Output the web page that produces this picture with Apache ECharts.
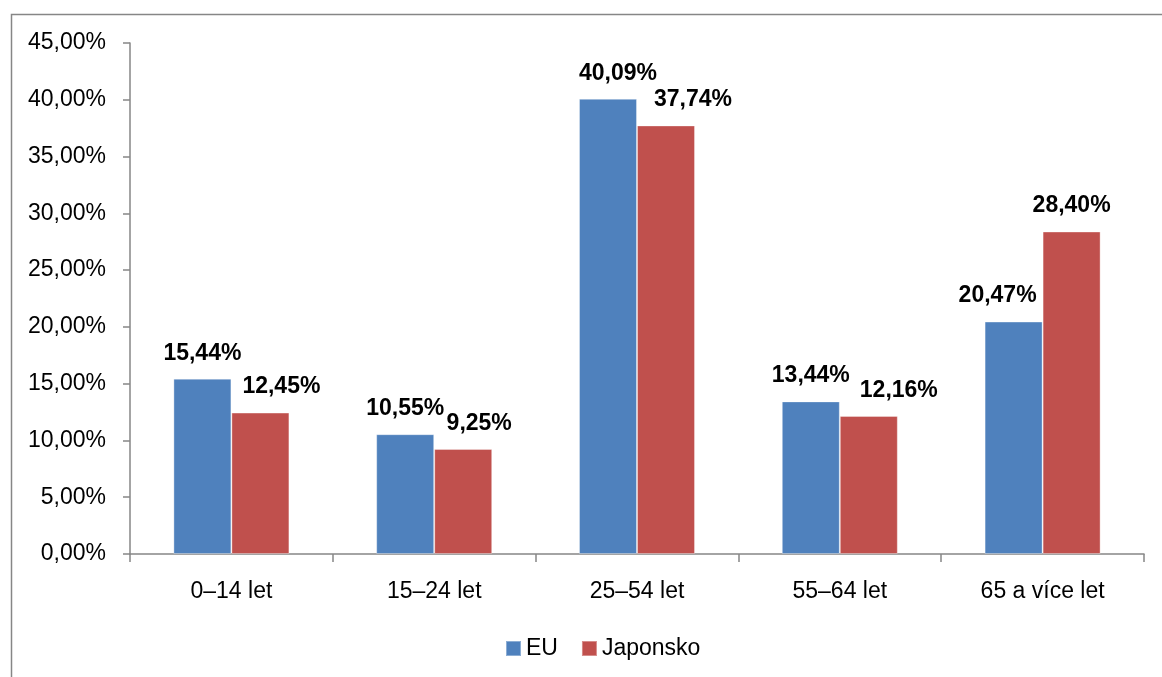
<!DOCTYPE html>
<html>
<head>
<meta charset="utf-8">
<script src="https://cdn.jsdelivr.net/npm/echarts@6/dist/echarts.min.js"></script>
<style>
html,body{margin:0;padding:0;background:#fff;}
#chart{width:1162px;height:677px;}
</style>
</head>
<body>
<div id="chart"></div>
<script>
const categories = ['0–14 let', '15–24 let', '25–54 let', '55–64 let', '65 a více let'];
const euValues = [15.44, 10.55, 40.09, 13.44, 20.47];
const japanValues = [12.45, 9.25, 37.74, 12.16, 28.40];
const seriesNames = ['EU', 'Japonsko'];

// label horizontal nudges (Excel-style overlap avoidance)
const euLabelShift = [0, 0, 10, 0, -16];
const japanLabelShift = [21, 16, 27, 30, 0];

const FONT = '"Liberation Sans", Arial, sans-serif';
const fmt = v => v.toFixed(2).replace('.', ',') + '%';

function buildData(values, shifts) {
  return values.map((v, i) => ({
    value: v,
    label: { offset: [shifts[i], 0] }
  }));
}

const chart = echarts.init(document.getElementById('chart'), null, { renderer: 'canvas' });
const labelStyle = {
  show: true,
  position: 'top',
  distance: 14,
  fontFamily: FONT,
  fontSize: 23,
  fontWeight: 'bold',
  color: '#000',
  formatter: p => fmt(p.value)
};

chart.setOption({
  backgroundColor: '#fff',
  animation: false,
  graphic: [{
    type: 'rect',
    left: 9, top: 12,
    shape: { x: 0, y: 0, width: 1200, height: 720 },
    style: { fill: 'none', stroke: '#868686', lineWidth: 1.5 },
    silent: true
  }],
  grid: { left: 130, right: 18, top: 43, bottom: 123, containLabel: false },
  legend: {
    data: seriesNames,
    left: 500,
    top: 632,
    icon: 'rect',
    itemWidth: 15,
    itemHeight: 15,
    itemGap: 23,
    textStyle: { fontFamily: FONT, fontSize: 23, color: '#000' }
  },
  xAxis: {
    type: 'category',
    data: categories,
    axisLine: { lineStyle: { color: '#868686', width: 1.5 } },
    axisTick: { show: true, length: 8, lineStyle: { color: '#868686', width: 1.5 } },
    axisLabel: { margin: 26, fontFamily: FONT, fontSize: 23, color: '#000' },
    splitLine: { show: false }
  },
  yAxis: {
    type: 'value',
    min: 0,
    max: 45,
    interval: 5,
    axisLine: { show: true, lineStyle: { color: '#868686', width: 1.5 } },
    axisTick: { show: true, length: 7, lineStyle: { color: '#868686', width: 1.5 } },
    axisLabel: { margin: 24, fontFamily: FONT, fontSize: 23, color: '#000', formatter: v => fmt(v) },
    splitLine: { show: false }
  },
  series: [
    {
      name: seriesNames[0],
      type: 'bar',
      data: buildData(euValues, euLabelShift),
      barWidth: 58,
      barGap: '0%',
      itemStyle: { color: '#4F81BD', borderColor: 'rgba(255,255,255,0.35)', borderWidth: 1 },
      label: labelStyle
    },
    {
      name: seriesNames[1],
      type: 'bar',
      data: buildData(japanValues, japanLabelShift),
      barWidth: 58,
      barGap: '0%',
      itemStyle: { color: '#C0504D', borderColor: 'rgba(255,255,255,0.35)', borderWidth: 1 },
      label: labelStyle
    }
  ]
});
</script>
</body>
</html>
